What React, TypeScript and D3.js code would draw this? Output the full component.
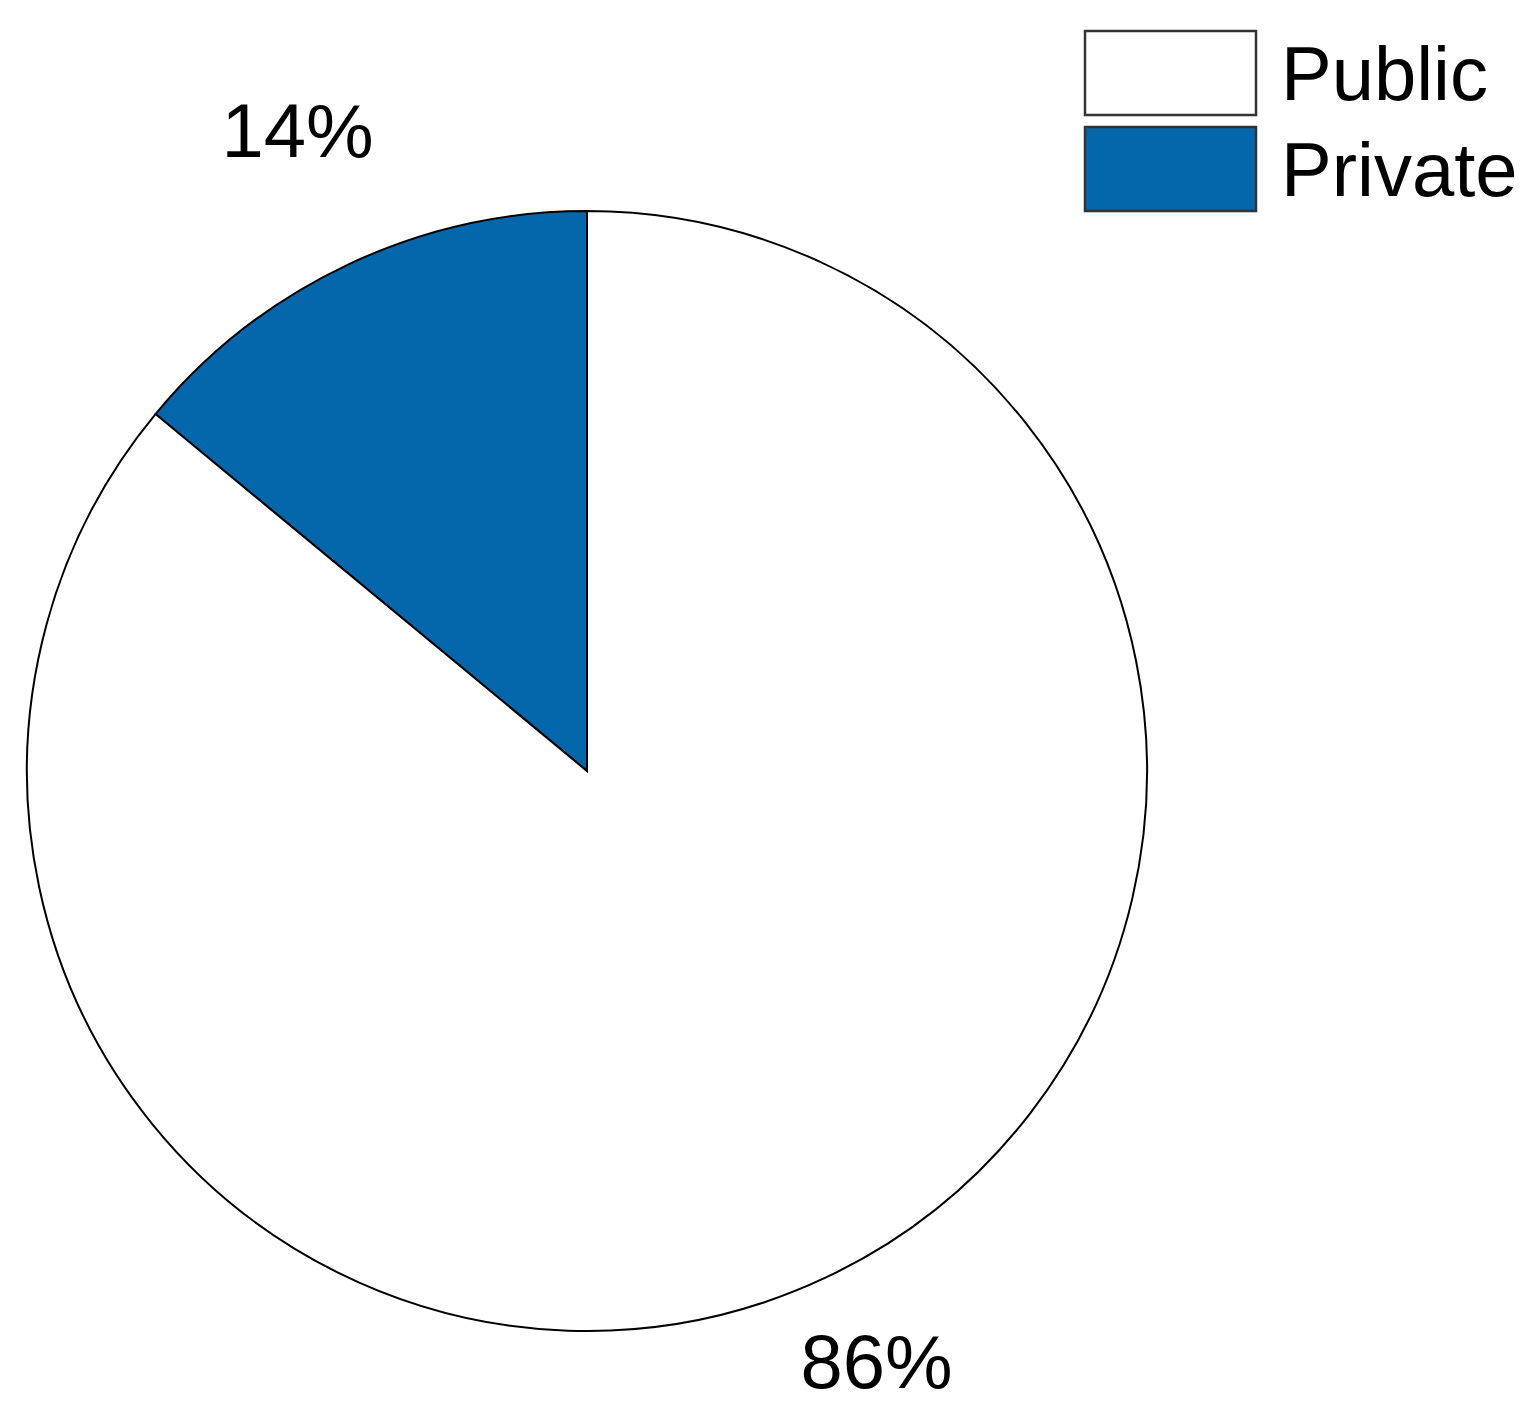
import React from "react";
import * as d3 from "d3";

// slice data, in drawing order (Private sits left of 12 o'clock)
const categories = ["Private", "Public"];
const shares = [14, 86];
const sliceColors = ["#0567ab", "#ffffff"];

// legend order as shown in the picture
const legendItems = ["Public", "Private"];

const W = 1540;
const H = 1420;
const cx = 587;
const cy = 771;
const radius = 560;
const labelRadius = 680;
const fontFamily = "'Liberation Sans', Arial, sans-serif";

const App = () => {
  const total = d3.sum(shares);
  const startAngle = (-shares[0] / total) * 2 * Math.PI;

  const pie = d3
    .pie<number>()
    .sort(null)
    .value((d) => d)
    .startAngle(startAngle)
    .endAngle(startAngle + 2 * Math.PI);
  const arcs = pie(shares);

  const arc = d3.arc<d3.PieArcDatum<number>>().innerRadius(0).outerRadius(radius);
  const labelArc = d3
    .arc<d3.PieArcDatum<number>>()
    .innerRadius(labelRadius)
    .outerRadius(labelRadius);

  const color = d3.scaleOrdinal<string, string>().domain(categories).range(sliceColors);

  return (
    <svg
      width={W}
      height={H}
      style={{ position: "absolute", left: 0, top: 0, background: "#fff" }}
    >
      <g transform={`translate(${cx},${cy})`}>
        {arcs.map((a, i) => (
          <path
            key={categories[i]}
            d={arc(a) || ""}
            fill={color(categories[i])}
            stroke="#000"
            strokeWidth={2}
            strokeLinejoin="miter"
          />
        ))}
        {arcs.map((a, i) => {
          const [x, y] = labelArc.centroid(a);
          return (
            <text
              key={"lbl" + i}
              x={x}
              y={y - 25}
              textAnchor="middle"
              dominantBaseline="central"
              fontFamily={fontFamily}
              fontSize={76}
              fill="#000"
            >
              {`${shares[i]}%`}
            </text>
          );
        })}
      </g>

      <g transform="translate(1085,31)">
        {legendItems.map((name, i) => (
          <g key={name} transform={`translate(0,${i * 96})`}>
            <rect
              x={0}
              y={0}
              width={171}
              height={84}
              fill={color(name)}
              stroke="#333"
              strokeWidth={2.5}
            />
            <text
              x={196}
              y={69}
              fontFamily={fontFamily}
              fontSize={76}
              fill="#000"
            >
              {name}
            </text>
          </g>
        ))}
      </g>
    </svg>
  );
};

export default App;
